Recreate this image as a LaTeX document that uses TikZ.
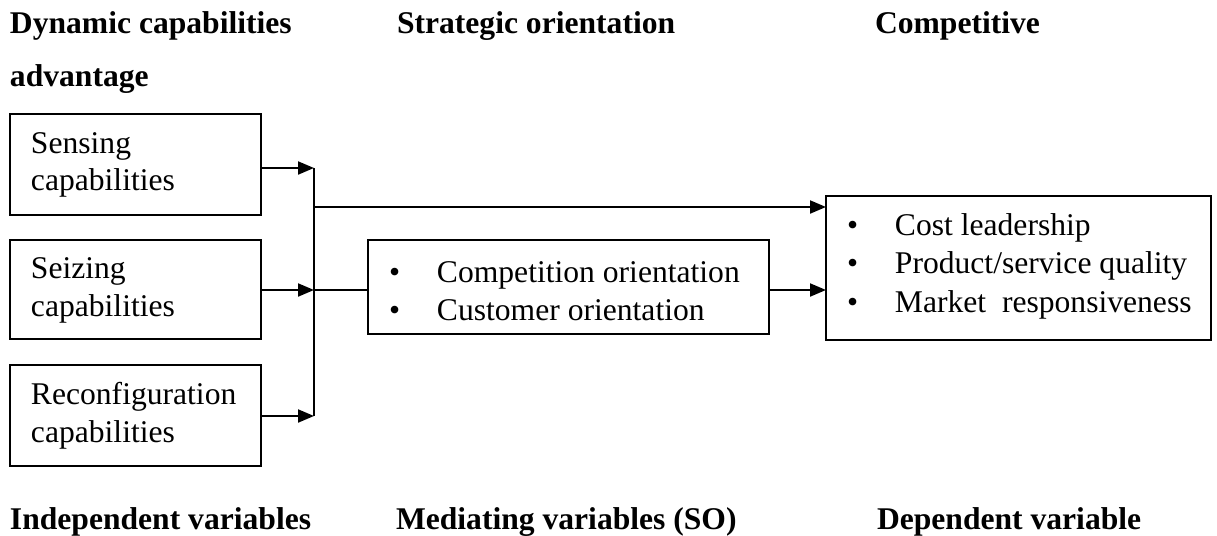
\documentclass[tikz,border=0pt]{standalone}
\usepackage{fontspec}
\setmainfont{Liberation Serif}
\usetikzlibrary{arrows.meta}

\newcommand{\bodysize}{\fontsize{15.8pt}{19pt}\selectfont}
\tikzset{
  box/.style={draw, line width=1pt, inner sep=0pt, outer sep=0pt, anchor=north west},
  txt/.style={anchor=base west, inner sep=0pt, outer sep=0pt, font=\bodysize},
  head/.style={txt, font=\bodysize\bfseries},
  link/.style={line width=1pt},
  arr/.style={line width=1pt, -{Triangle[length=8pt,width=6.5pt]}}
}
\newcommand{\bul}[1]{\makebox[24pt][l]{•}#1}

\begin{document}
\begin{tikzpicture}[x=0.5pt,y=-0.5pt]
\useasboundingbox (0,0) rectangle (1217,536);

% headings
\node[head] (hdc) at (10,33) {Dynamic capabilities};
\node[head] (hso) at (397,33) {Strategic orientation};
\node[head] (hca) at (875,33) {Competitive};
\node[head] (hadv) at (10,86) {advantage};

\node[head] (fiv) at (10,529) {Independent variables};
\node[head] (fmv) at (396,529) {Mediating variables (SO)};
\node[head] (fdv) at (877,529) {Dependent variable};

% independent variables
\node[box, minimum width=125.5pt, minimum height=50.5pt] (sense) at (10,114) {};
\node[txt] (sense1) at (31,153) {Sensing};
\node[txt] (sense2) at (31,190) {capabilities};

\node[box, minimum width=125.5pt, minimum height=49.5pt] (seize) at (10,240) {};
\node[txt] (seize1) at (31,278) {Seizing};
\node[txt] (seize2) at (31,316) {capabilities};

\node[box, minimum width=125.5pt, minimum height=50.5pt] (recon) at (10,365) {};
\node[txt] (recon1) at (31,404) {Reconfiguration};
\node[txt] (recon2) at (31,442) {capabilities};

% mediating variables
\node[box, minimum width=200.5pt, minimum height=47pt] (med) at (368,240) {};
\node[txt] (med1) at (389,282) {\bul{Competition orientation}};
\node[txt] (med2) at (389,320) {\bul{Customer orientation}};

% dependent variable
\node[box, minimum width=192.5pt, minimum height=72pt] (dep) at (826,196) {};
\node[txt] (dep1) at (847,235) {\bul{Cost leadership}};
\node[txt] (dep2) at (847,273) {\bul{Product/service quality}};
\node[txt] (dep3) at (847,312) {\bul{Market~~responsiveness}};

% collecting line
\coordinate (b1) at (314,168);
\coordinate (b2) at (314,290);
\coordinate (b3) at (314,416);
\coordinate (bt) at (314,207);

\draw[arr] (sense.east |- b1) -- (b1);
\draw[arr] (seize.east |- b2) -- (b2);
\draw[arr] (recon.east |- b3) -- (b3);
\draw[link] (b1) -- (b3);

\draw[arr] (bt) -- (dep.west |- bt);
\draw[link] (b2) -- (med.west |- b2);
\draw[arr] (med.east |- b2) -- (dep.west |- b2);
\end{tikzpicture}
\end{document}
